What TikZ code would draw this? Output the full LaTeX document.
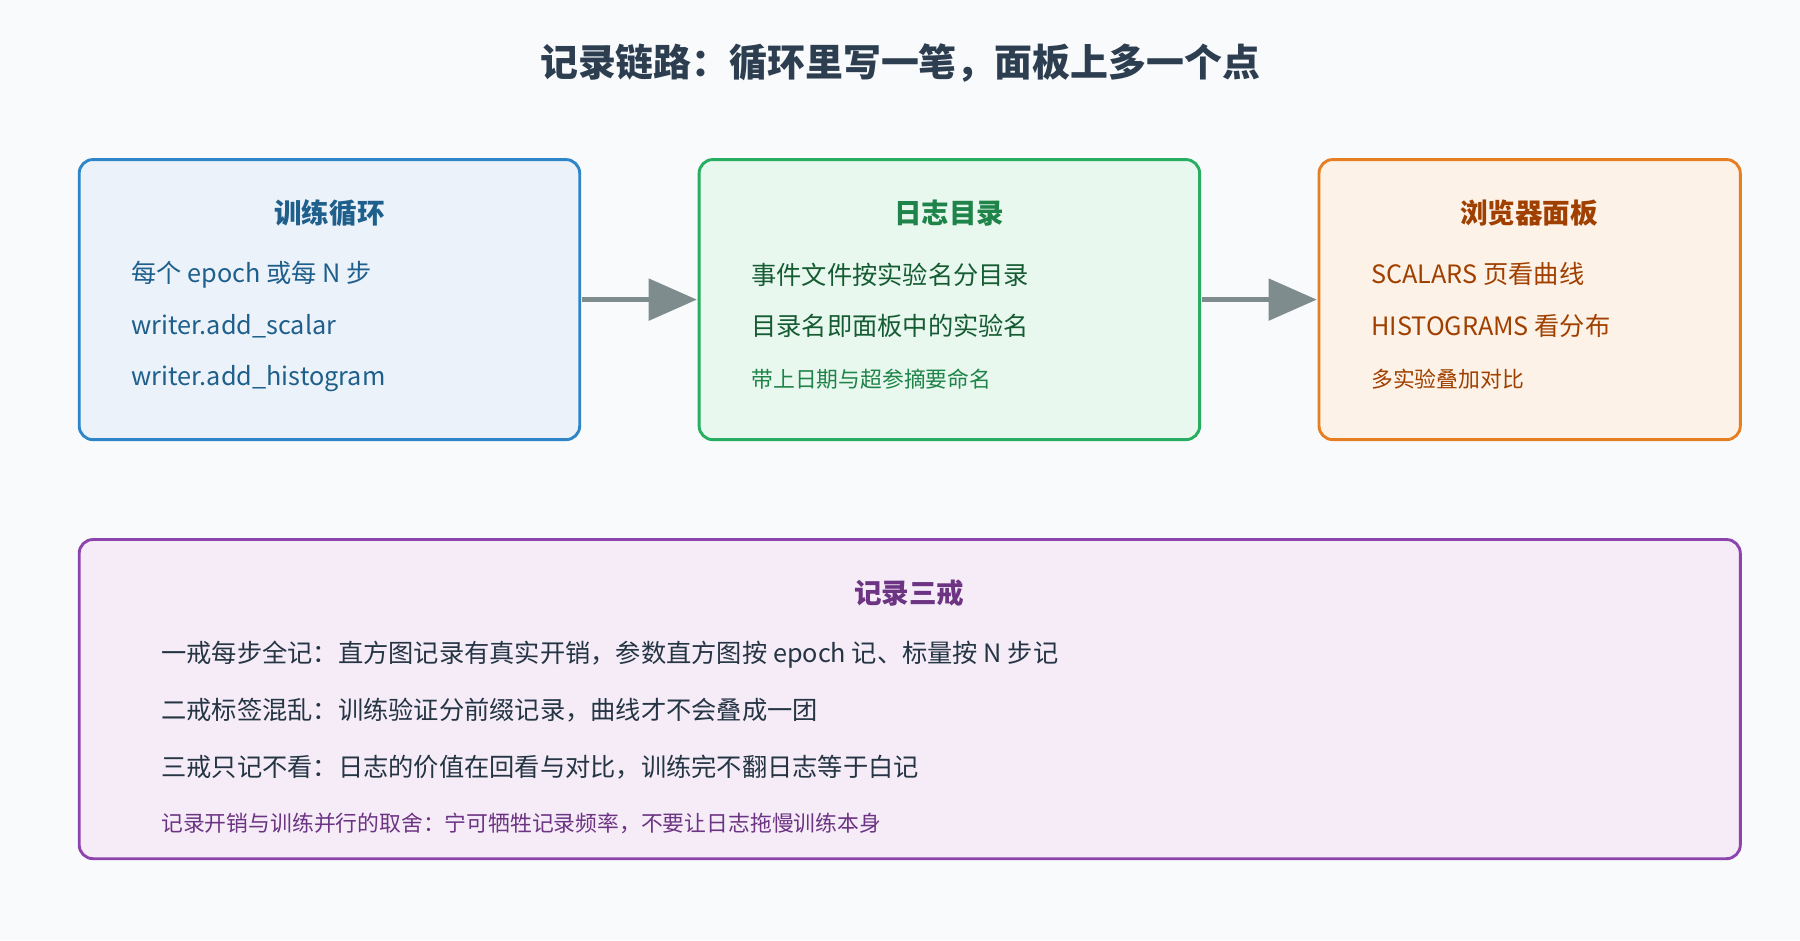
\documentclass[tikz,border=0pt]{standalone}
\usepackage{fontspec}
\setmainfont{Noto Sans CJK SC}
\usetikzlibrary{arrows.meta}
\definecolor{bg}{HTML}{F8FAFC}
\definecolor{ttl}{HTML}{2C3E50}
\definecolor{bB}{HTML}{2E86C8}\definecolor{fB}{HTML}{EBF2FA}\definecolor{tB}{HTML}{1F5F8B}
\definecolor{bG}{HTML}{27AE60}\definecolor{fG}{HTML}{E9F8EF}\definecolor{tG}{HTML}{1E8449}
\definecolor{bO}{HTML}{E67E22}\definecolor{fO}{HTML}{FDF2E7}\definecolor{tO}{HTML}{A04000}
\definecolor{bP}{HTML}{8E44AD}\definecolor{fP}{HTML}{F5ECF8}\definecolor{tP}{HTML}{6C3483}
\definecolor{arr}{HTML}{7F8C8D}
\tikzset{
 box/.style={draw=#1, line width=2.5pt, rounded corners=12pt},
 head/.style={font=\fontsize{24}{28}\selectfont\bfseries, anchor=center},
 body/.style={font=\fontsize{22}{26}\selectfont, anchor=west},
 small/.style={font=\fontsize{19}{23}\selectfont, anchor=west},
 conn/.style={draw=arr, line width=4pt, -{Triangle[length=42pt,width=36pt]}}
}
\begin{document}
\begin{tikzpicture}[x=1pt,y=-1pt]
\fill[bg] (0,0) rectangle (1568,819);
\useasboundingbox (0,0) rectangle (1568,819);
\node[font=\fontsize{33}{38}\selectfont\bfseries, text=ttl] (title) at (784,55) {记录链路：循环里写一笔，面板上多一个点};
\path[box=bB, fill=fB] (69,139) rectangle (505,383);
\path[box=bG, fill=fG] (609,139) rectangle (1045,383);
\path[box=bO, fill=fO] (1149,139) rectangle (1516,383);
\path[box=bP, fill=fP] (69,470) rectangle (1516,748);
\coordinate (b1e) at (507,261); \coordinate (b2w) at (607,261);
\coordinate (b2e) at (1047,261); \coordinate (b3w) at (1147,261);
\draw[conn] (b1e) -- (b2w);
\draw[conn] (b2e) -- (b3w);
\node[head, text=tB] (h1) at (287,186) {训练循环};
\node[body, text=tB] (a1) at (111,239) {每个 epoch 或每 N 步};
\node[body, text=tB] (a2) at (111,284) {writer.add\_scalar};
\node[body, text=tB] (a3) at (111,330) {writer.add\_histogram};
\node[head, text=tG] (h2) at (827,186) {日志目录};
\node[body, text=tG!70!black] (c1) at (651,239) {事件文件按实验名分目录};
\node[body, text=tG!70!black] (c2) at (651,284) {目录名即面板中的实验名};
\node[small, text=tG] (c3) at (651,330) {带上日期与超参摘要命名};
\node[head, text=tO] (h3) at (1332,186) {浏览器面板};
\node[body, text=tO] (d1) at (1191,239) {SCALARS 页看曲线};
\node[body, text=tO] (d2) at (1191,284) {HISTOGRAMS 看分布};
\node[small, text=tO] (d3) at (1191,330) {多实验叠加对比};
\node[head, text=tP] (h4) at (792,517) {记录三戒};
\node[body, text=ttl!85!black] (e1) at (137,570) {一戒每步全记：直方图记录有真实开销，参数直方图按 epoch 记、标量按 N 步记};
\node[body, text=ttl!85!black] (e2) at (137,619) {二戒标签混乱：训练验证分前缀记录，曲线才不会叠成一团};
\node[body, text=ttl!85!black] (e3) at (137,668) {三戒只记不看：日志的价值在回看与对比，训练完不翻日志等于白记};
\node[small, text=tP] (e4) at (137,717) {记录开销与训练并行的取舍：宁可牺牲记录频率，不要让日志拖慢训练本身};
\end{tikzpicture}
\end{document}
